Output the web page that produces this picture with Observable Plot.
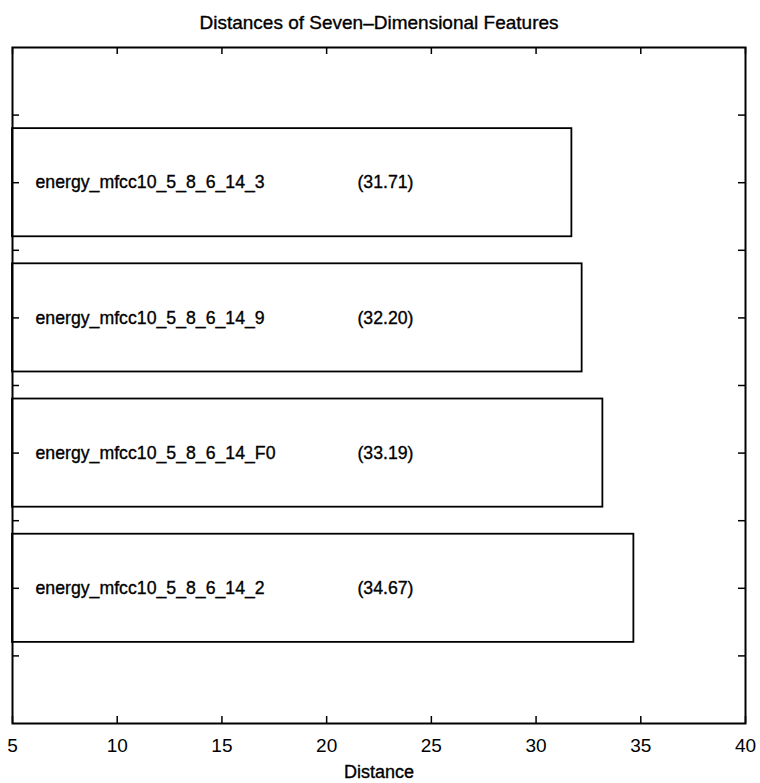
<!DOCTYPE html>
<html>
<head>
<meta charset="utf-8">
<script src="https://cdn.jsdelivr.net/npm/d3@7"></script>
<script src="https://cdn.jsdelivr.net/npm/@observablehq/plot@0.6"></script>
<style>
  html, body { margin: 0; padding: 0; background: #fff; }
  #chart svg { display: block; }
</style>
</head>
<body>
<div id="chart"></div>
<script>
const title = "Distances of Seven\u2013Dimensional Features";
const xLabel = "Distance";
// bars listed bottom to top (MATLAB barh order)
const names = [
  "energy_mfcc10_5_8_6_14_2",
  "energy_mfcc10_5_8_6_14_F0",
  "energy_mfcc10_5_8_6_14_9",
  "energy_mfcc10_5_8_6_14_3"
];
const distances = [34.67, 33.19, 32.20, 31.71];
const xTicks = [5, 10, 15, 20, 25, 30, 35, 40];
const yTicks = [0.5, 1, 1.5, 2, 2.5, 3, 3.5, 4, 4.5];

const data = names.map((n, i) => ({name: n, value: distances[i], pos: i + 1}));

const W = 760, H = 783;
const mL = 12, mR = 15, mT = 47, mB = 60;
const innerW = W - mL - mR, innerH = H - mT - mB;
const tick = 7;
const font = "'Liberation Sans', Arial, Helvetica, sans-serif";
const ink = {fill: "#000", stroke: "#000", strokeWidth: 0.35};

const chart = Plot.plot({
  width: W,
  height: H,
  marginLeft: mL,
  marginRight: mR,
  marginTop: mT,
  marginBottom: mB,
  style: {fontFamily: font, fontSize: "18px", color: "#000", background: "#fff"},
  x: {domain: [5, 40], ticks: xTicks, label: null},
  y: {domain: [0, 5], axis: null},
  marks: [
    Plot.rect(data, {x1: 5, x2: "value", y1: d => d.pos - 0.4, y2: d => d.pos + 0.4,
      fill: "#fff", stroke: "#000", strokeWidth: 1.8}),
    Plot.text(data, {x: 6.1, y: "pos", text: "name", textAnchor: "start", fontSize: 17.7, ...ink}),
    Plot.text(data, {x: 21.47, y: "pos", text: d => `(${d.value.toFixed(2)})`, textAnchor: "start",
      fontSize: 17.7, ...ink}),
    // inward ticks
    Plot.tickX(xTicks, {x: d => d, insetTop: innerH - tick, stroke: "#000", strokeWidth: 1.5}),
    Plot.tickX(xTicks, {x: d => d, insetBottom: innerH - tick, stroke: "#000", strokeWidth: 1.5}),
    Plot.tickY(yTicks, {y: d => d, insetRight: innerW - tick, stroke: "#000", strokeWidth: 1.5}),
    Plot.tickY(yTicks, {y: d => d, insetLeft: innerW - tick, stroke: "#000", strokeWidth: 1.5}),
    Plot.frame({stroke: "#000", strokeWidth: 2}),
    Plot.axisX(xTicks, {anchor: "bottom", tickSize: 0, tickPadding: 15, fontSize: 19,
      tickFormat: d => String(d), label: null, ...ink}),
    Plot.text([xLabel], {frameAnchor: "bottom", dy: 49, fontSize: 18, lineAnchor: "middle", ...ink}),
    Plot.text([title], {frameAnchor: "top", dy: -25, fontSize: 19, lineAnchor: "middle", ...ink})
  ]
});
document.getElementById("chart").appendChild(chart);
</script>
</body>
</html>
